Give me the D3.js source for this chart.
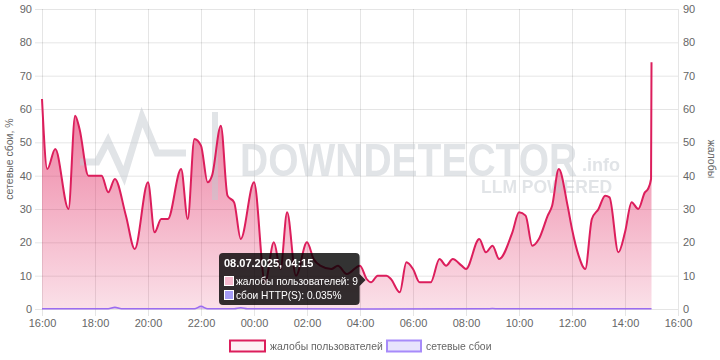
<!DOCTYPE html>
<html><head><meta charset="utf-8">
<script src="https://cdn.jsdelivr.net/npm/d3@7"></script>
<style>
html,body{margin:0;padding:0;background:#fff;}
svg{display:block;font-family:"Liberation Sans",Arial,sans-serif;}
</style></head>
<body><svg id="c" width="720" height="360"></svg>
<script>
// ---- data ----
const complaintTimes = [
"2025-07-07 16:00","2025-07-07 16:12","2025-07-07 16:30","2025-07-07 17:00","2025-07-07 17:15","2025-07-07 17:25",
"2025-07-07 17:45","2025-07-07 18:15","2025-07-07 18:30","2025-07-07 18:45","2025-07-07 19:10","2025-07-07 19:30",
"2025-07-07 20:00","2025-07-07 20:15","2025-07-07 20:30","2025-07-07 20:45","2025-07-07 21:15","2025-07-07 21:30",
"2025-07-07 21:45","2025-07-07 22:00","2025-07-07 22:15","2025-07-07 22:25","2025-07-07 22:45","2025-07-07 23:00",
"2025-07-07 23:15","2025-07-07 23:30","2025-07-08 00:00","2025-07-08 00:25","2025-07-08 00:45","2025-07-08 01:00",
"2025-07-08 01:15","2025-07-08 01:35","2025-07-08 02:00","2025-07-08 02:15","2025-07-08 02:30","2025-07-08 02:55",
"2025-07-08 03:10","2025-07-08 03:30","2025-07-08 04:00","2025-07-08 04:15","2025-07-08 04:25","2025-07-08 04:40",
"2025-07-08 05:00","2025-07-08 05:10","2025-07-08 05:30","2025-07-08 05:45","2025-07-08 06:00","2025-07-08 06:15",
"2025-07-08 06:40","2025-07-08 07:00","2025-07-08 07:15","2025-07-08 07:30","2025-07-08 07:50","2025-07-08 08:00",
"2025-07-08 08:30","2025-07-08 08:45","2025-07-08 09:00","2025-07-08 09:15","2025-07-08 09:45","2025-07-08 10:00",
"2025-07-08 10:15","2025-07-08 10:30","2025-07-08 10:45","2025-07-08 11:05","2025-07-08 11:15","2025-07-08 11:30",
"2025-07-08 11:50","2025-07-08 12:00","2025-07-08 12:15","2025-07-08 12:30","2025-07-08 12:45","2025-07-08 13:00",
"2025-07-08 13:15","2025-07-08 13:25","2025-07-08 13:45","2025-07-08 14:00","2025-07-08 14:15","2025-07-08 14:30",
"2025-07-08 14:45","2025-07-08 14:52","2025-07-08 14:59","2025-07-08 15:00"];
const complaintValues = [
63,42,48,30,58,54,
40,40,35,39,28,18,
38,23,27,27,42,27,
51,49,38,40,55,34,
32,21,38,8,20,12,
29,10,20,15,13,12,
13,10.5,13,9,8,10,
10,9,5,14,12,8,
8,15,13,15,13,12,
21,17,19,15,23,29,
28,19,21,28,31,42,
31,24,16,12,27,30,
34,33.5,17,23,32,30,
35,36,39,74];
const outageTimes = [
"2025-07-07 16:00","2025-07-07 18:30","2025-07-07 18:45","2025-07-07 19:00","2025-07-07 21:45","2025-07-07 22:00",
"2025-07-07 22:15","2025-07-07 23:15","2025-07-07 23:30","2025-07-07 23:45","2025-07-08 04:15","2025-07-08 08:45",
"2025-07-08 09:00","2025-07-08 09:15","2025-07-08 15:00"];
const outageValues = [0.05,0.05,0.5,0.05,0.05,0.8,0.05,0.05,0.35,0.05,0.035,0.05,0.15,0.05,0.05];
const yTickValues = [0,10,20,30,40,50,60,70,80,90];
const xTickLabels = ["16:00","18:00","20:00","22:00","00:00","02:00","04:00","06:00","08:00","10:00","12:00","14:00","16:00"];
const seriesNames = ["жалобы пользователей","сетевые сбои"];
const leftTitle = "сетевые сбои, %";
const rightTitle = "жалобы";
const tooltipTitle = "08.07.2025, 04:15";
const tooltipRows = ["жалобы пользователей: 9","сбои HTTP(S): 0.035%"];
const tooltipTime = "2025-07-08 04:15";

// ---- chart ----
const parse = d3.timeParse("%Y-%m-%d %H:%M");
const complaints = complaintTimes.map((t,i)=>({t:parse(t),v:complaintValues[i]}));
const outages = outageTimes.map((t,i)=>({t:parse(t),v:outageValues[i]}));
const xTickDates = xTickLabels.map((l,i)=>d3.timeHour.offset(parse("2025-07-07 16:00"), i*2));

const svg = d3.select("#c");
const L=42,R=678,T=9,B=309;
const x = d3.scaleTime().domain([parse("2025-07-07 16:00"),parse("2025-07-08 16:00")]).range([L,R]);
const yL = d3.scaleLinear().domain([0,90]).range([B,T]);
const yR = d3.scaleLinear().domain([0,90]).range([B,T]);
const grid = "rgba(0,0,0,0.1)";

const defs = svg.append("defs");
const g1 = defs.append("linearGradient").attr("id","pg").attr("gradientUnits","userSpaceOnUse")
  .attr("x1",0).attr("x2",0).attr("y1",T).attr("y2",B);
g1.append("stop").attr("offset",0).attr("stop-color","#e0245e").attr("stop-opacity",0.8);
g1.append("stop").attr("offset",1).attr("stop-color","#e0245e").attr("stop-opacity",0.14);

// gridlines
svg.append("g").selectAll("line").data(yTickValues).join("line")
  .attr("x1",L-7).attr("x2",R).attr("y1",d=>yL(d)+0.5).attr("y2",d=>yL(d)+0.5)
  .attr("stroke",grid);
svg.append("g").selectAll("line").data(xTickDates).join("line")
  .attr("x1",d=>Math.round(x(d))+0.5).attr("x2",d=>Math.round(x(d))+0.5).attr("y1",T).attr("y2",B+7)
  .attr("stroke",grid);

// axes
const axL = d3.axisLeft(yL).tickValues(yTickValues).tickSize(0).tickPadding(10);
const axR = d3.axisRight(yR).tickValues(yTickValues).tickSize(0).tickPadding(5);
const axB = d3.axisBottom(x).tickValues(xTickDates).tickFormat((d,i)=>xTickLabels[i]).tickSize(0).tickPadding(10);
function style(g){g.select(".domain").remove();g.selectAll("text").attr("fill","#666").attr("font-size","11px").attr("font-family","'Liberation Sans',Arial,sans-serif");}
svg.append("g").attr("transform",`translate(${L},0)`).call(axL).call(style);
svg.append("g").attr("transform",`translate(${R},0)`).call(axR).call(style);
svg.append("g").attr("transform",`translate(0,${B})`).call(axB).call(style);

// axis titles
svg.append("text").attr("transform",`translate(13,${(T+B)/2}) rotate(-90)`).attr("text-anchor","middle")
  .attr("font-size","10.5px").attr("fill","#666").text(leftTitle);
svg.append("text").attr("transform",`translate(708,${(T+B)/2}) rotate(90)`).attr("text-anchor","middle")
  .attr("font-size","10.5px").attr("fill","#666").text(rightTitle);

// areas
const curve = d3.curveMonotoneX;
svg.append("path").datum(complaints)
  .attr("d",d3.area().x(d=>x(d.t)).y0(yR(0)).y1(d=>yR(d.v)).curve(curve))
  .attr("fill","url(#pg)");
svg.append("path").datum(outages)
  .attr("d",d3.area().x(d=>x(d.t)).y0(yL(0)).y1(d=>yL(d.v)).curve(curve))
  .attr("fill","rgba(160,120,245,0.35)");

// watermark
const wm = svg.append("g").attr("opacity",0.5).attr("fill","#c3c8cf").attr("stroke","#c3c8cf");
wm.append("path").attr("d","M80,162 L97,162 L108,141 L124,176 L142,117 L157,153 L186,153")
  .attr("fill","none").attr("stroke-width",7).attr("stroke-linejoin","miter");
wm.append("rect").attr("x",212).attr("y",112).attr("width",6).attr("height",88).attr("stroke","none");
wm.append("text").attr("transform","translate(240,176) scale(1,1.2)").attr("font-size","39px").attr("font-weight","bold")
  .attr("stroke","none").text("DOWNDETECTOR");
wm.append("text").attr("x",582).attr("y",171).attr("font-size","18px").attr("font-weight","bold")
  .attr("stroke","none").text(".info");
wm.append("text").attr("x",481).attr("y",193).attr("font-size","17.5px").attr("font-weight","bold")
  .attr("stroke","none").text("LLM POWERED");

// lines
svg.append("path").datum(complaints)
  .attr("d",d3.line().x(d=>x(d.t)).y(d=>yR(d.v)).curve(curve))
  .attr("fill","none").attr("stroke","#dc1e5c").attr("stroke-width",2);
svg.append("path").datum(outages)
  .attr("d",d3.line().x(d=>x(d.t)).y(d=>yL(d.v)).curve(curve))
  .attr("fill","none").attr("stroke","#9b6cf0").attr("stroke-width",1.5);

// legend
const lg = svg.append("g").attr("font-size","10.4px").attr("fill","#666");
lg.append("rect").attr("x",230).attr("y",340.5).attr("width",35).attr("height",11)
  .attr("fill","#fdf0f4").attr("stroke","#dc1e5c").attr("stroke-width",2);
lg.append("text").attr("x",270).attr("y",350).text(seriesNames[0]);
lg.append("rect").attr("x",387).attr("y",340.5).attr("width",34).attr("height",11)
  .attr("fill","#e8e3fd").attr("stroke","#a78bfa").attr("stroke-width",2);
lg.append("text").attr("x",426).attr("y",350).text(seriesNames[1]);

// tooltip
const tx = x(parse(tooltipTime));
const tt = svg.append("g");
const tl=219, tr=tx-7, ttop=253, tbot=305, cy=280;
tt.append("path").attr("d",`M${tl+4},${ttop} H${tr-4} Q${tr},${ttop} ${tr},${ttop+4} V${cy-6} L${tr+6},${cy} L${tr},${cy+6} V${tbot-4} Q${tr},${tbot} ${tr-4},${tbot} H${tl+4} Q${tl},${tbot} ${tl},${tbot-4} V${ttop+4} Q${tl},${ttop} ${tl+4},${ttop} Z`)
  .attr("fill","rgba(0,0,0,0.8)");
tt.append("text").attr("x",224).attr("y",267).attr("fill","#fff").attr("font-weight","bold").attr("font-size","11px").text(tooltipTitle);
tt.append("rect").attr("x",224.5).attr("y",276.5).attr("width",9).attr("height",9).attr("fill","#f5b9cd").attr("stroke","#fff").attr("stroke-width",1);
tt.append("rect").attr("x",224.5).attr("y",290.5).attr("width",9).attr("height",9).attr("fill","#a59cf6").attr("stroke","#fff").attr("stroke-width",1);
tt.append("text").attr("x",236).attr("y",284.5).attr("fill","#fff").attr("font-size","10.2px").text(tooltipRows[0]);
tt.append("text").attr("x",236).attr("y",298.5).attr("fill","#fff").attr("font-size","10.2px").text(tooltipRows[1]);
</script></body></html>
